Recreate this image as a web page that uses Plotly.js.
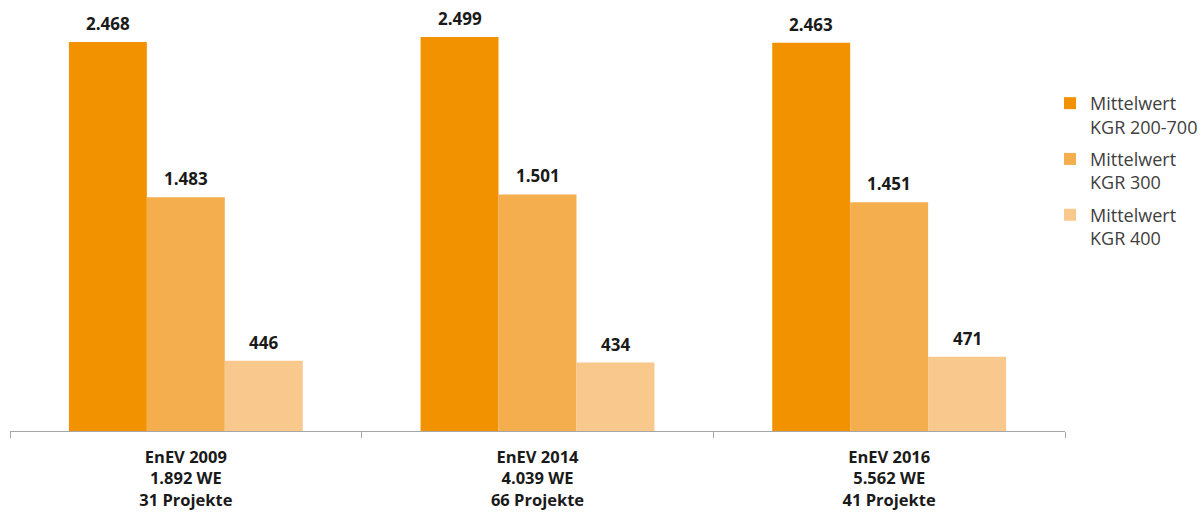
<!DOCTYPE html>
<html>
<head>
<meta charset="utf-8">
<script src="https://cdn.plot.ly/plotly-3.0.1.min.js"></script>
<style>html,body{margin:0;padding:0;background:#fff;}#chart{width:1202px;height:518px;}</style>
</head>
<body>
<div id="chart"></div>
<script>
const categories = ["EnEV 2009<br>1.892 WE<br>31 Projekte", "EnEV 2014<br>4.039 WE<br>66 Projekte", "EnEV 2016<br>5.562 WE<br>41 Projekte"];
const seriesNames = ["Mittelwert<br>KGR 200-700", "Mittelwert<br>KGR 300", "Mittelwert<br>KGR 400"];
const kgr200_700 = [2468, 2499, 2463];
const kgr300 = [1483, 1501, 1451];
const kgr400 = [446, 434, 471];
const colors = ["#F39200", "#F5AE4E", "#F9C88C"];

const seriesValues = [kgr200_700, kgr300, kgr400];
const font = "Open Sans, sans-serif";
const bargap = 0.335;
const nSeries = seriesValues.length;
const barW = (1 - bargap) / nSeries;

const traces = seriesValues.map((vals, i) => ({
  type: "bar",
  name: seriesNames[i],
  legendgroup: "g" + i,
  x: categories,
  y: vals,
  marker: {color: colors[i]},
  hoverinfo: "skip"
}));

const annotations = [];
seriesValues.forEach((vals, i) => {
  vals.forEach((v, j) => {
    annotations.push({
      xref: "x", yref: "y",
      x: j + (i - (nSeries - 1) / 2) * barW,
      y: v,
      text: "<b>" + v.toLocaleString("de-DE") + "</b>",
      showarrow: false,
      yanchor: "bottom",
      yshift: 5,
      font: {family: font, size: 17, color: "#1a1a1a"}
    });
  });
});

const layout = {
  width: 1202, height: 518,
  margin: {l: 10, r: 137, t: 10, b: 87, autoexpand: false},
  barmode: "group",
  bargap: bargap,
  bargroupgap: 0,
  showlegend: true,
  annotations: annotations,
  legend: {
    xref: "paper", yref: "paper",
    x: 0.9858, xanchor: "left", y: 0.822, yanchor: "top",
    font: {family: font, size: 18, color: "#404040"},
    valign: "top",
    itemwidth: 30,
    tracegroupgap: 6
  },
  xaxis: {
    type: "category",
    showline: true, linecolor: "#a6a6a6", linewidth: 1,
    ticks: "outside", ticklen: 6, tickcolor: "#a6a6a6", tickson: "boundaries",
    ticklabelstandoff: 11,
    tickfont: {family: font, size: 16.5, color: "#1a1a1a", weight: "bold"},
    showgrid: false
  },
  yaxis: {
    range: [0, 2671],
    visible: false,
    showgrid: false, zeroline: false
  },
  paper_bgcolor: "#ffffff", plot_bgcolor: "#ffffff"
};

Plotly.newPlot("chart", traces, layout, {displayModeBar: false, staticPlot: true});
</script>
</body>
</html>
